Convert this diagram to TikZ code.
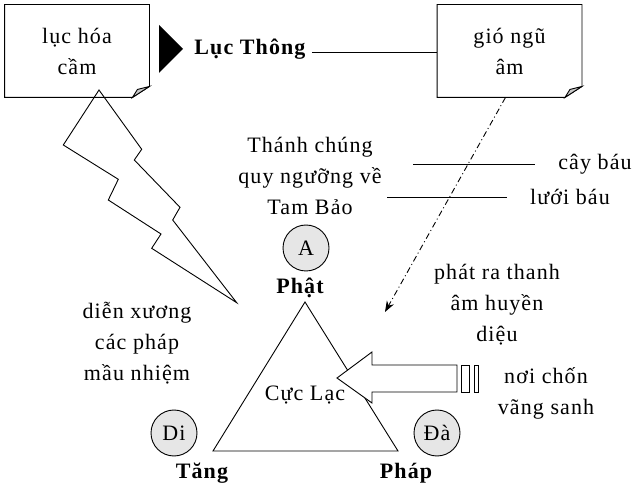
\documentclass[tikz,border=0pt]{standalone}
\usepackage{fontspec}
\setmainfont[LetterSpace=5]{Liberation Serif}
\usetikzlibrary{arrows.meta}
\definecolor{disc}{HTML}{E6E6E6}
\definecolor{fold}{HTML}{C8C8C8}
\tikzset{
  every node/.style={font=\fontsize{22}{31}\selectfont, align=center},
  note/.style={minimum width=144pt, minimum height=92pt, inner sep=0pt},
  disk/.style={circle, draw, fill=disc, minimum size=46pt, inner sep=0pt},
  heavy/.style={font=\fontsize{22}{31}\selectfont\bfseries}
}

\begin{document}
\begin{tikzpicture}[x=1pt, y=-1pt, line width=0.9pt]
  \useasboundingbox (0,0) rectangle (635,486);

  \node[note] (luc) at (77,51) {lục hóa\\cầm};
  \draw (luc.north west) -- (luc.north east) -- ([yshift=11pt]luc.south east) -- ([xshift=-17pt]luc.south east) -- (luc.south west) -- cycle;
  \draw[fill=fold] ([xshift=-17pt]luc.south east) -- ([xshift=-12pt,yshift=8pt]luc.south east) -- ([yshift=11pt]luc.south east) -- cycle;

  \node[note] (gio) at (509.5,51) {gió ngũ\\âm};
  \draw (gio.north west) -- (gio.north east) -- ([yshift=11pt]gio.south east) -- ([xshift=-17pt]gio.south east) -- (gio.south west) -- cycle;
  \draw[fill=fold] ([xshift=-17pt]gio.south east) -- ([xshift=-12pt,yshift=8pt]gio.south east) -- ([yshift=11pt]gio.south east) -- cycle;

  \fill (159,25) -- (183,49) -- (159,73) -- cycle;
  \node[heavy, inner sep=6pt] (thong) at (250,49) {Lục Thông};
  \draw (thong.east |- 0,52) -- (gio.west |- 0,52);

  \draw (99,90) -- (63.3,145) -- (118.3,179.3) -- (108.3,200) -- (161,234) -- (151.7,248.3) -- (236.7,302.7)
        -- (172.7,220) -- (180,207.3) -- (134.3,160) -- (141.7,149.3) -- cycle;

  \node (thanh) at (310,176) {Thánh chúng\\quy ngưỡng về\\Tam Bảo};
  \node (cay) at (595,164) {cây báu};
  \node (luoi) at (570,197) {lưới báu};
  \coordinate (cayL) at (413,164);
  \coordinate (luoiL) at (387,197);
  \draw (cayL) -- ([xshift=-20pt]cay.west |- cayL);
  \draw (luoiL) -- ([xshift=-19pt]luoi.west |- luoiL);

  \coordinate (amtip) at (385,312);
  \draw[dash pattern=on 6pt off 3pt on 1pt off 3pt, -{Stealth[length=11pt,width=8pt]}] ([xshift=-4pt]gio.south) -- (amtip);

  \node[disk] (a) at (306,248) {A};
  \node[heavy] (phat) at (300,288) {Phật};

  \draw (305,302) -- (213,451) -- (398,451) -- cycle;
  \node (cuc) at (305,395) {Cực Lạc};

  \draw[fill=white] (337,378) -- (372,352) -- (372,365) -- (457,365) -- (457,392) -- (372,392) -- (372,403) -- cycle;
  \draw (461,365) rectangle (469,392);
  \draw (474,365) rectangle (478,392);

  \node[disk] (di) at (174,433) {Di};
  \node[disk] (da) at (437,433) {Đà};
  \node[heavy] (tang) at (202,473) {Tăng};
  \node[heavy] (phap) at (406,473) {Pháp};

  \node (dien) at (137,343) {diễn xương\\các pháp\\mầu nhiệm};
  \node (phatra) at (497,305) {phát ra thanh\\âm huyền\\diệu};
  \node (noi) at (546,393) {nơi chốn\\vãng sanh};
\end{tikzpicture}
\end{document}
